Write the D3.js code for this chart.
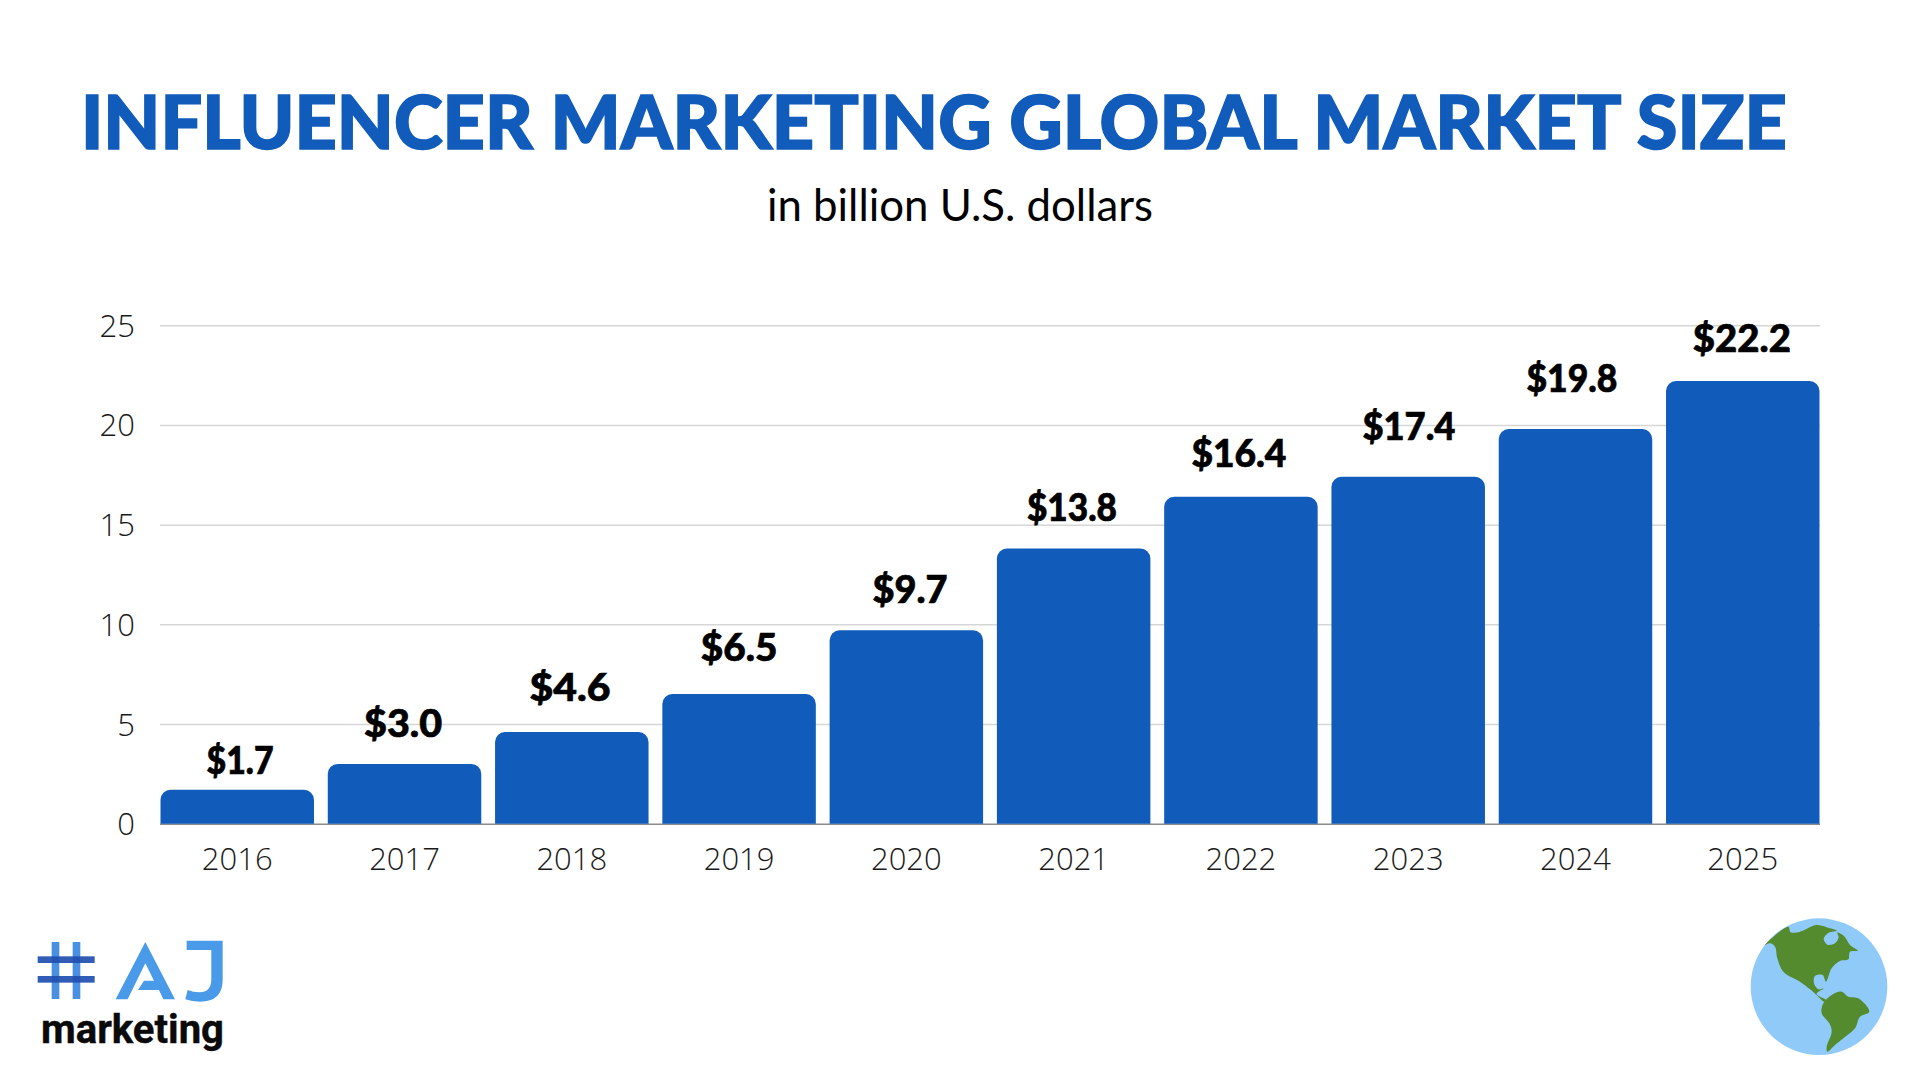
<!DOCTYPE html>
<html>
<head>
<meta charset="utf-8">
<script src="https://cdn.jsdelivr.net/npm/d3@7"></script>
<style>
  html, body { margin: 0; padding: 0; background: #fff; }
  svg { display: block; }
</style>
</head>
<body>
<div id="canvas"></div>
<script>
// chart values
var years = ["2016", "2017", "2018", "2019", "2020", "2021", "2022", "2023", "2024", "2025"];
var marketSize = [1.7, 3.0, 4.6, 6.5, 9.7, 13.8, 16.4, 17.4, 19.8, 22.2];
var yTicks = [0, 5, 10, 15, 20, 25];

var titleText = "INFLUENCER MARKETING GLOBAL MARKET SIZE";
var subtitleText = "in billion U.S. dollars";
var logoText = "marketing";

var blue = "#115bbb";
var w = 1920, h = 1080;
var svg = d3.select("#canvas").append("svg").attr("width", w).attr("height", h);

var x = d3.scaleBand().domain(years).range([160.5, 1819.5]).paddingInner(0.0825).paddingOuter(0);
var y = d3.scaleLinear().domain([0, 25]).range([823.7, 325.3]);

// title
svg.append("text").text(titleText)
  .attr("x", 81).attr("y", 148.6)
  .attr("textLength", 1706).attr("lengthAdjust", "spacingAndGlyphs")
  .style("font-family", "Lato").style("font-weight", 900).style("font-size", "74px")
  .style("fill", blue).style("stroke", blue).style("stroke-width", 1.6);

svg.append("text").text(subtitleText)
  .attr("x", 767).attr("y", 220.7)
  .attr("textLength", 386).attr("lengthAdjust", "spacingAndGlyphs")
  .style("font-family", "Lato").style("font-weight", 400).style("font-size", "45px")
  .style("fill", "#000");

// axes
var yAxis = svg.append("g")
  .attr("transform", "translate(160,0)")
  .call(d3.axisLeft(y).tickValues(yTicks).tickSize(-1660).tickPadding(25));
yAxis.select(".domain").remove();
yAxis.selectAll("line").style("stroke", "#d6d6d6").style("stroke-width", 1.5);
yAxis.selectAll("line").filter(function(d) { return d === 0; }).style("stroke", "#8a8a8a");
yAxis.selectAll("text")
  .attr("dy", "11px")
  .style("font-family", "'Open Sans'").style("font-weight", 300).style("font-size", "31px")
  .style("fill", "#1a1a1a");

var xAxis = svg.append("g")
  .attr("transform", "translate(0,823.7)")
  .call(d3.axisBottom(x).tickSize(0).tickPadding(0));
xAxis.select(".domain").remove();
xAxis.selectAll("text")
  .attr("y", 46).attr("dy", 0)
  .style("font-family", "'Open Sans'").style("font-weight", 300).style("font-size", "31px")
  .style("fill", "#1a1a1a");

// bars, only the top corners are round
function barPath(year, value) {
  var x0 = x(year), x1 = x0 + x.bandwidth(), top = y(value), base = y(0), r = 10;
  var p = d3.path();
  p.moveTo(x0, base);
  p.lineTo(x0, top + r);
  p.arcTo(x0, top, x0 + r, top, r);
  p.lineTo(x1 - r, top);
  p.arcTo(x1, top, x1, top + r, r);
  p.lineTo(x1, base);
  p.closePath();
  return p.toString();
}

svg.selectAll("path.bar").data(years).enter().append("path")
  .attr("class", "bar")
  .attr("d", function(d, i) { return barPath(d, marketSize[i]); })
  .style("fill", blue);

// value labels were placed by hand in the picture, so each has its own nudge and width
var labelGap = [15.8, 27, 31, 33.4, 27.4, 28, 29.7, 36.9, 37.3, 29.5];
var labelDx = [2.8, -1.5, -1.8, 0, 3.6, -1.7, -2, 0.7, -3.6, -0.9];
var labelWidth = [67, 78, 81, 76.5, 75, 90, 95, 93, 91, 98];

svg.selectAll("text.value").data(years).enter().append("text")
  .attr("class", "value")
  .text(function(d, i) { return "$" + marketSize[i].toFixed(1); })
  .attr("x", function(d, i) { return x(d) + x.bandwidth() / 2 + labelDx[i]; })
  .attr("y", function(d, i) { return y(marketSize[i]) - labelGap[i]; })
  .attr("text-anchor", "middle")
  .attr("textLength", function(d, i) { return labelWidth[i]; })
  .attr("lengthAdjust", "spacingAndGlyphs")
  .style("font-family", "Lato").style("font-weight", 900).style("font-size", "38px")
  .style("fill", "#000").style("stroke", "#000").style("stroke-width", 0.7);

// logo
var logo = svg.append("g").attr("transform", "translate(0,880) scale(0.3333)");
[155, 218].forEach(function(bx) {
  logo.append("rect").attr("x", bx).attr("y", 186).attr("width", 23).attr("height", 171).style("fill", "#4a90e2");
});
[229, 288].forEach(function(by) {
  logo.append("rect").attr("x", 113).attr("y", by).attr("width", 171).attr("height", 20).style("fill", "#1f4fb0").style("opacity", 0.92);
});
logo.append("path")
  .attr("d", "M347,358 L436,186 L525,358 L490,358 L477,330 L414,330 L432,302 L462,302 L436,250 L383,358 Z")
  .style("fill", "#4a9aea");
logo.append("path")
  .attr("d", "M560,182 L668,182 L668,300 Q668,365 600,365 Q575,365 556,358 L563,330 Q580,337 598,337 Q634,337 634,298 L634,210 L560,210 Z")
  .style("fill", "#4a9aea");

svg.append("text").text(logoText)
  .attr("x", 41).attr("y", 1042.7)
  .attr("textLength", 183).attr("lengthAdjust", "spacingAndGlyphs")
  .style("font-family", "Roboto").style("font-weight", 700).style("font-size", "40px")
  .style("fill", "#0a0a0a").style("stroke", "#0a0a0a").style("stroke-width", 0.4);

// globe
var northAmerica = [[135,135],[205,80],[212,97],[240,95],[290,75],[330,85],[350,92],[326,98],[311,116],[322,134],[345,130],[356,112],[352,98],[372,108],[390,135],[413,152],[390,155],[385,178],[360,183],[335,205],[318,245],[308,225],[285,228],[282,250],[295,268],[312,265],[290,282],[322,302],[312,305],[295,290],[270,268],[240,245],[190,215],[172,175],[165,140],[150,130]];
var southAmerica = [[310,310],[335,285],[365,275],[385,290],[415,295],[448,335],[420,350],[405,385],[370,415],[345,435],[322,455],[320,440],[335,395],[328,370],[305,340]];

var globe = svg.append("g").attr("transform", "translate(1720,900) scale(0.3333)");
svg.append("defs").append("clipPath").attr("id", "globeClip")
  .append("circle").attr("cx", 297).attr("cy", 260).attr("r", 205);
globe.append("circle").attr("cx", 297).attr("cy", 260).attr("r", 205).style("fill", "#90caf9");
var land = d3.line().curve(d3.curveCatmullRomClosed.alpha(0.5));
globe.selectAll("path.land").data([northAmerica, southAmerica]).enter().append("path")
  .attr("class", "land")
  .attr("d", land)
  .attr("clip-path", "url(#globeClip)")
  .style("fill", "#558b2f");
</script>
</body>
</html>
